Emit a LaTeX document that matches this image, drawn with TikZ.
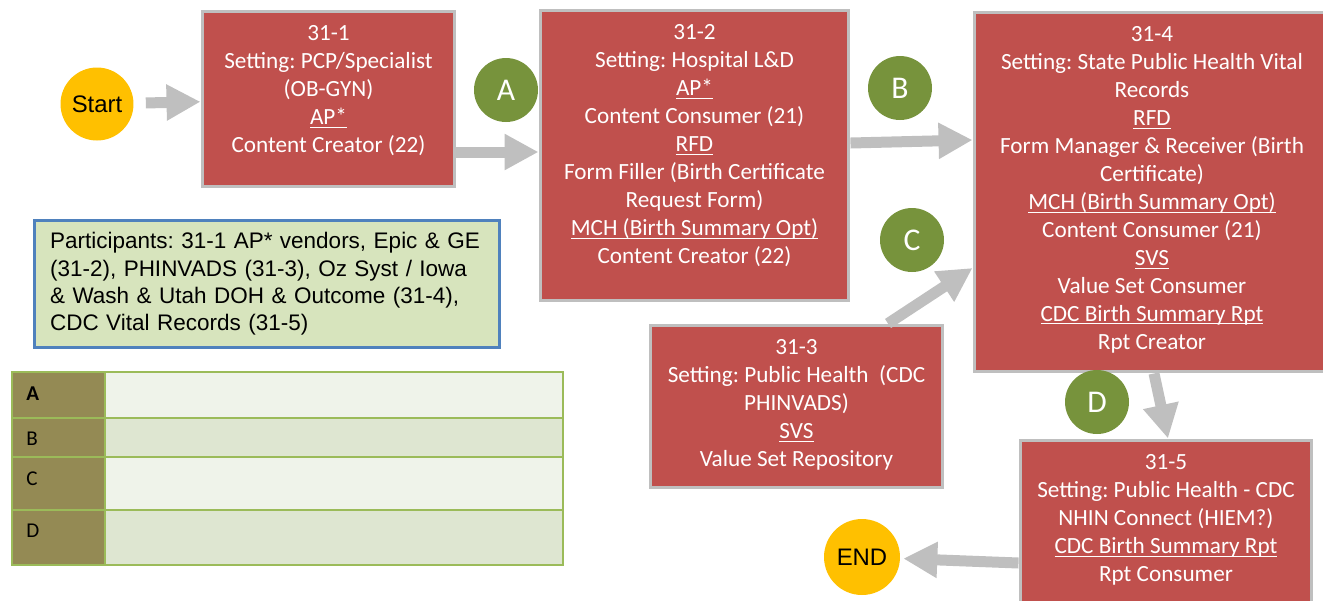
\documentclass[tikz,border=0pt]{standalone}
\usepackage{fontspec}
\setmainfont{Carlito}
\newfontfamily\arialfont{Liberation Sans}
\usetikzlibrary{arrows.meta,positioning}
\frenchspacing

\definecolor{stagered}{HTML}{C0504D}
\definecolor{edgegray}{HTML}{BFBFBF}
\definecolor{markgreen}{HTML}{77933C}
\definecolor{termyellow}{HTML}{FFC000}
\definecolor{notefill}{HTML}{D7E4BD}
\definecolor{noteblue}{HTML}{4F81BD}
\definecolor{tabolive}{HTML}{948A54}
\definecolor{tabline}{HTML}{9BBB59}
\definecolor{rowlight}{HTML}{EFF3EA}
\definecolor{rowdark}{HTML}{DEE6D1}

\newcommand{\keyword}[1]{\underline{\smash{#1}}}

\tikzset{
  stage/.style={draw=edgegray, line width=0.06cm, fill=stagered, inner sep=0pt},
  stagetext/.style={text=white, align=center, inner sep=0pt, font=\fontsize{13.2}{15.9}\selectfont},
  marker/.style={circle, fill=markgreen, text=white, minimum size=1.28cm, inner sep=0pt, font=\fontsize{18}{18}\selectfont},
  terminal/.style={circle, fill=termyellow, minimum size=1.46cm, inner sep=0pt, font=\arialfont\fontsize{13.6}{13.6}\selectfont},
  flow/.style={draw=edgegray, line width=0.22cm, -{Triangle[length=0.68cm, width=0.68cm]}},
}

\begin{document}
\begin{tikzpicture}[x=0.02cm, y=-0.02cm]
  \useasboundingbox (0,0) rectangle (1323,600);
  \clip (0,0) rectangle (1323,600);

  % stages
  \node[stage, minimum width=5.06cm, minimum height=3.52cm] (s1) at (328.5,99) {};
  \node[stage, minimum width=6.18cm, minimum height=5.82cm] (s2) at (694.5,155.5) {};
  \node[stage, minimum width=5.86cm, minimum height=3.26cm] (s3) at (796.5,406.5) {};
  \node[stage, minimum width=7.12cm, minimum height=7.2cm] (s4) at (1152,192) {};
  \node[stage, minimum width=5.84cm, minimum height=3.6cm] (s5) at (1166,530) {};

  \node[stagetext, below=0.32cm of s1.north] (t1) {31-1\\Setting: PCP/Specialist\\(OB-GYN)\\\keyword{AP*}\\Content Creator (22)};
  \node[stagetext, below=0.32cm of s2.north] (t2) {31-2\\Setting: Hospital L\&D\\\keyword{AP*}\\Content Consumer (21)\\\keyword{RFD}\\Form Filler (Birth Certificate\\Request Form)\\\keyword{MCH (Birth Summary Opt)}\\Content Creator (22)};
  \node[stagetext, below=0.32cm of s3.north] (t3) {31-3\\Setting: Public Health~ (CDC\\PHINVADS)\\\keyword{SVS}\\Value Set Repository};
  \node[stagetext, below=0.32cm of s4.north] (t4) {31-4\\Setting: State Public Health Vital\\Records\\\keyword{RFD}\\Form Manager \& Receiver (Birth\\Certificate)\\\keyword{MCH (Birth Summary Opt)}\\Content Consumer (21)\\\keyword{SVS}\\Value Set Consumer\\\keyword{CDC Birth Summary Rpt}\\Rpt Creator};
  \node[stagetext, below=0.32cm of s5.north] (t5) {31-5\\Setting: Public Health - CDC\\NHIN Connect (HIEM?)\\\keyword{CDC Birth Summary Rpt}\\Rpt Consumer};

  % start / end and letters
  \node[terminal] (start) at (97,104) {Start};
  \node[terminal, minimum size=1.52cm] (fin) at (862,557) {END};
  \node[marker] (ma) at (506,90) {A};
  \node[marker] (mb) at (900,88) {B};
  \node[marker] (mc) at (912,240) {C};
  \node[marker] (md) at (1097,402) {D};

  % flows
  \draw[flow, shorten <=0.24cm] (start) -- (s1);
  \draw[flow] (s1.east |- 0,152) -- (s2.west |- 0,152);
  \draw[flow] (s2.east |- 0,143) -- (s4.west |- 0,140);
  \draw[flow] (s3.north -| 888,0) -- (s4.west |- 0,268);
  \draw[flow] (s4.south -| 1154,0) -- (s5.north -| 1168,0);
  \draw[flow, shorten >=0.06cm] (s5.west |- 0,563) -- (fin);

  % participants
  \node[draw=noteblue, line width=0.06cm, fill=notefill, minimum width=9.32cm, minimum height=2.56cm,
        text width=8.68cm, align=left, font=\arialfont\fontsize{12.8}{15.6}\selectfont] (notes) at (267,284)
    {Participants: 31-1 AP* vendors, Epic \& GE\\(31-2), PHINVADS (31-3), Oz Syst / Iowa\\\& Wash \& Utah DOH \& Outcome (31-4),\\CDC Vital Records (31-5)};

  % legend table
  \foreach \top/\bot/\lab/\shade [count=\i] in {372/418/\textbf{A}/rowlight, 418/457/B/rowdark, 457/510/C/rowlight, 510/565/D/rowdark}{
    \fill[tabolive] (12,\top) rectangle (105,\bot);
    \fill[\shade] (105,\top) rectangle (563,\bot);
    \draw[tabline, line width=0.04cm] (12,\top) rectangle (563,\bot);
    \node[anchor=north west, inner sep=0pt, font=\fontsize{12}{13}\selectfont] (lab\i) at (26,\top+14) {\lab};
  }
  \draw[tabline, line width=0.04cm] (105,372) -- (105,565);
\end{tikzpicture}
\end{document}
